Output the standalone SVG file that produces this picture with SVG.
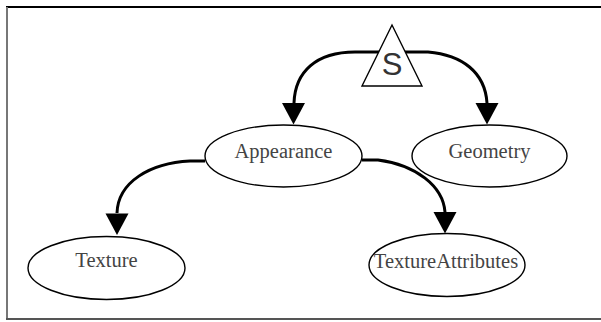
<svg xmlns="http://www.w3.org/2000/svg" width="601" height="322" viewBox="0 0 601 322">
<defs>
<style>
.node{fill:#fff;stroke:#000;stroke-width:1.4}
.lbl{font-family:"Liberation Serif","Times New Roman",serif;font-size:20.5px;fill:#444;text-anchor:middle}
.s{font-family:"Liberation Sans",Arial,sans-serif;font-size:31px;fill:#333;text-anchor:middle}
.edge{fill:none;stroke:#000;stroke-width:3}
.frame{stroke-width:2;fill:none}
</style>
<path id="ah" d="M-11.5 0 L11.5 0 L0 21.5 Z" fill="#000"/>
</defs>
<rect width="601" height="322" fill="#fff"/>
<g id="frame">
<line class="frame" x1="6" y1="7" x2="601" y2="7" stroke="#000"/>
<line class="frame" x1="7" y1="7" x2="7" y2="320" stroke="#777"/>
<line class="frame" x1="6" y1="319" x2="601" y2="319" stroke="#555"/>
</g>
<g id="connectors">
<path class="edge" d="M380 52 L355 52 C316 52 295 72 294 103"/>
<use href="#ah" x="293.5" y="103"/>
<path class="edge" d="M403 52 L428 52 C462 55 485 72 487 103"/>
<use href="#ah" x="487" y="103"/>
<path class="edge" d="M205 161 L190 161 C150 163 118 182 117 213"/>
<use href="#ah" x="117" y="213.5"/>
<path class="edge" d="M362 160 L378 160 C416 165 443 186 445 212"/>
<use href="#ah" x="445" y="212"/>
</g>
<g id="S">
<polygon class="node" points="362,86 392,25 422,86"/>
<text class="s" x="392" y="75">S</text>
</g>
<g id="Appearance">
<ellipse class="node" cx="283.5" cy="156" rx="78.5" ry="31"/>
<text class="lbl" x="283.5" y="158">Appearance</text>
</g>
<g id="Geometry">
<ellipse class="node" cx="489.5" cy="156" rx="77.5" ry="31"/>
<text class="lbl" x="489.5" y="158">Geometry</text>
</g>
<g id="Texture">
<ellipse class="node" cx="106.5" cy="268" rx="78.5" ry="31.5"/>
<text class="lbl" x="106.5" y="267">Texture</text>
</g>
<g id="TextureAttributes">
<ellipse class="node" cx="447" cy="265" rx="78" ry="31.5"/>
<text class="lbl" x="446" y="268">TextureAttributes</text>
</g>
</svg>
